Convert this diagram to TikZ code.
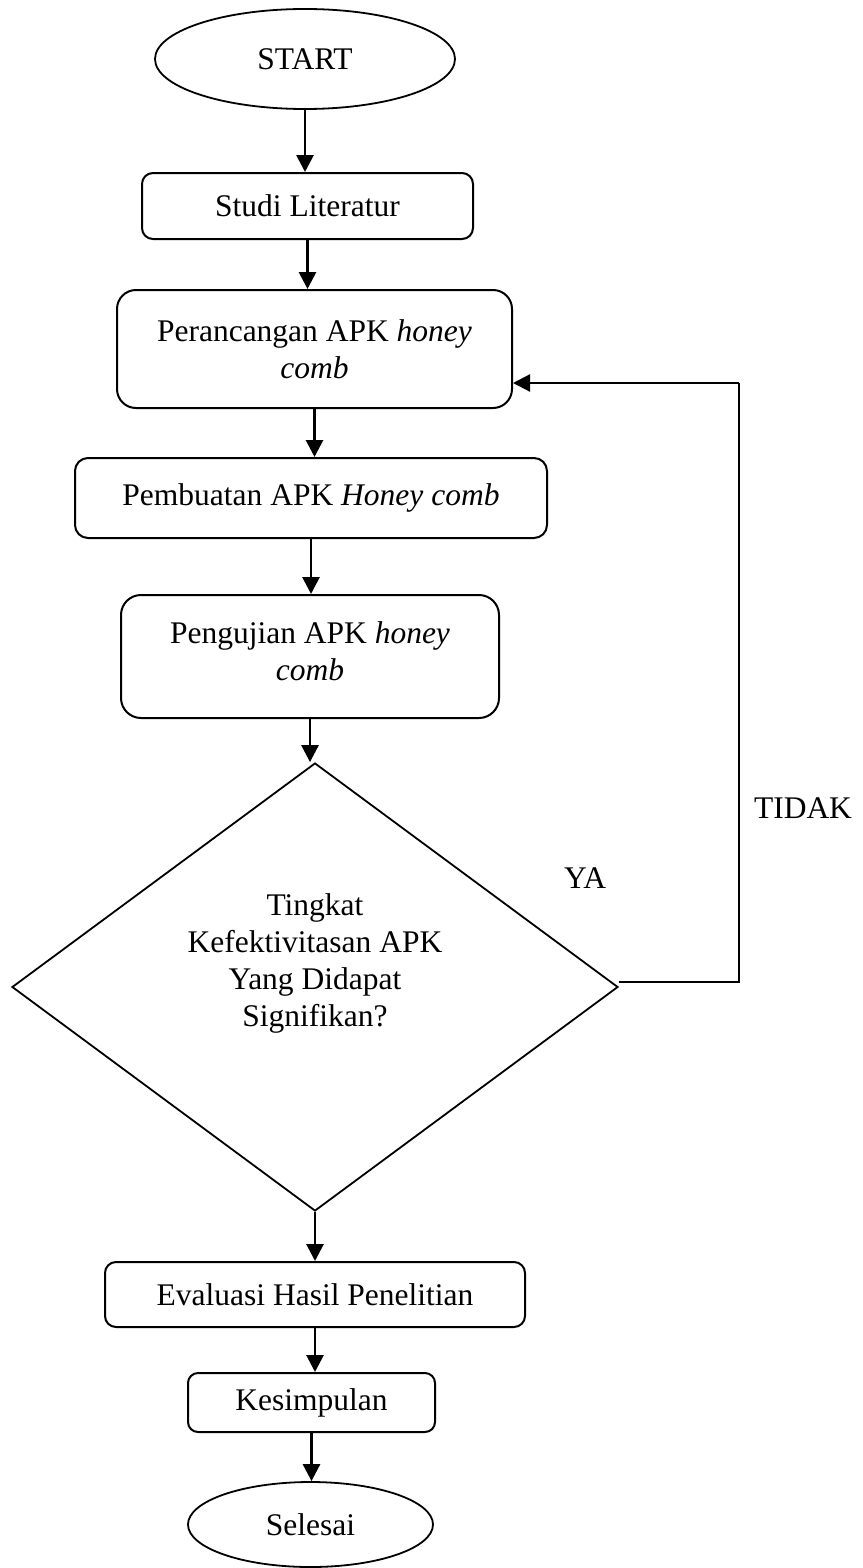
\documentclass[tikz,border=0pt]{standalone}
\usepackage{fontspec}
\setmainfont{Liberation Serif}
\usetikzlibrary{arrows.meta,shapes.geometric}
\begin{document}
\begin{tikzpicture}[x=1pt,y=-1pt,
  every node/.style={font=\fontsize{31.5}{37}\selectfont},
  box/.style={draw, line width=2pt, rounded corners=#1, inner sep=0pt, align=center},
  box/.default=11pt,
  term/.style={draw, ellipse, line width=1.8pt, inner sep=0pt},
  tipshape/.style={-{Triangle[width=17pt,length=17pt]}},
  arr/.style={line width=2.8pt, tipshape},
  loopline/.style={line width=1.3pt},
  lbl/.style={inner sep=0pt}]
\fill[white] (0,0) rectangle (862,1568);
\useasboundingbox (0,0) rectangle (862,1568);

\node[term, minimum width=300pt, minimum height=100pt] (start) at (305,59) {START};
\node[box=11pt, minimum width=331pt, minimum height=66pt] (s1) at (307.5,206) {Studi Literatur};
\node[box=19pt, minimum width=395pt, minimum height=118pt] (s2) at (314.5,349) {Perancangan APK \textit{honey}\\\textit{comb}};
\node[box=13pt, minimum width=472pt, minimum height=80pt] (s3) at (311,498) {Pembuatan APK \textit{Honey comb}};
\node[box=20pt, minimum width=378pt, minimum height=123pt] (s4) at (310,656.5) {};
\node[lbl, align=center] (s4t) at (310,651) {Pengujian APK \textit{honey}\\\textit{comb}};
\node[draw, diamond, line width=1.8pt, inner sep=0pt, minimum width=606pt, minimum height=448pt] (dec) at (315,987) {};
\node[lbl, align=center] (dect) at (315,963) {Tingkat\\Kefektivitasan APK\\Yang Didapat\\Signifikan?};
\node[box=11pt, minimum width=420pt, minimum height=65pt] (s5) at (315,1294.5) {Evaluasi Hasil Penelitian};
\node[box=10pt, minimum width=247pt, minimum height=59pt] (s6) at (311.5,1402.5) {Kesimpulan};
\node[term, minimum width=245pt, minimum height=85pt] (end) at (310.5,1524.5) {Selesai};

\node[lbl] (ya) at (585,878) {YA};
\node[lbl] (tidak) at (803,808) {TIDAK};

\draw[arr] (start.south) -- (start.south |- s1.north);
\draw[arr] (s1.south) -- (s1.south |- s2.north);
\draw[arr] (s2.south) -- (s2.south |- s3.north);
\draw[arr] (s3.south) -- (s3.south |- s4.north);
\draw[arr] (s4.south) -- (s4.south |- dec.north);
\draw[arr] (dec.south) -- (dec.south |- s5.north);
\draw[arr] (s5.south) -- (s5.south |- s6.north);
\draw[arr] (s6.south) -- (s6.south |- end.north);

\coordinate (lc) at (739,383);
\coordinate (lb) at (739,982);
\draw[loopline] (dec.east) ++(0,-5) -- (lb) -- (lc);
\draw[line width=2.2pt, tipshape] (lc) -- (lc -| s2.east);
\end{tikzpicture}
\end{document}
